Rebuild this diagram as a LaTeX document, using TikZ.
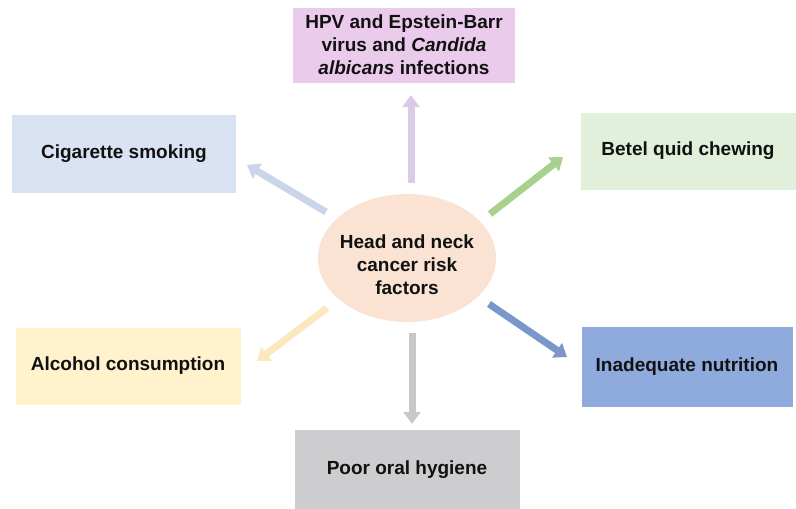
\documentclass[tikz,border=0pt]{standalone}
\usepackage{fontspec}
\setmainfont{Liberation Sans}
\usetikzlibrary{arrows.meta,shapes.geometric}
\definecolor{pinkbox}{HTML}{EBCBEB}
\definecolor{pinkarr}{HTML}{DCCBE6}
\definecolor{bluebox}{HTML}{DAE3F3}
\definecolor{bluearr}{HTML}{CBD5EA}
\definecolor{greenbox}{HTML}{E2EFDA}
\definecolor{greenarr}{HTML}{A9D18E}
\definecolor{yellowbox}{HTML}{FFF2CC}
\definecolor{yellowarr}{HTML}{FBE8BC}
\definecolor{navybox}{HTML}{8FAADC}
\definecolor{navyarr}{HTML}{7B96CA}
\definecolor{graybox}{HTML}{CDCCCE}
\definecolor{grayarr}{HTML}{C8C8C8}
\definecolor{peach}{HTML}{FBE3D3}
\definecolor{txt}{HTML}{111111}
\tikzset{
  factor/.style={draw=none, inner sep=0pt, align=center, text=txt,
    font=\fontsize{19}{23}\selectfont\bfseries},
  fat/.style={line width=7pt, -{Triangle[length=12pt,width=17pt]}, line cap=butt}
}
\begin{document}
\begin{tikzpicture}[x=1pt,y=-1pt]
\useasboundingbox (0,0) rectangle (796,509);
% boxes
\node[factor, fill=pinkbox, minimum width=222pt, minimum height=75pt] (hpv) at (404,45)
  {HPV and Epstein-Barr\\virus and \textit{Candida}\\\textit{albicans} infections};
\node[factor, fill=bluebox, minimum width=224pt, minimum height=78pt] (cig) at (124,154) {Cigarette smoking};
\node[factor, fill=greenbox, minimum width=215pt, minimum height=77pt] (bet) at (688,151) {Betel quid chewing};
\node[factor, fill=yellowbox, minimum width=225pt, minimum height=77pt] (alc) at (128,366) {Alcohol consumption};
\node[factor, fill=navybox, minimum width=211pt, minimum height=80pt] (nut) at (687,367) {Inadequate nutrition};
\node[factor, fill=graybox, minimum width=225pt, minimum height=80pt] (hyg) at (407,470) {Poor oral hygiene};
% centre
\node[ellipse, fill=peach, draw=none, minimum width=178pt, minimum height=128pt, inner sep=0pt] (ctr) at (407,258) {};
\node[factor] (ctrtxt) at ([yshift=-7pt]ctr.center) {Head and neck\\cancer risk\\factors};
% arrow end points
\coordinate (t1) at (411,183); \coordinate (h1) at (411,95);
\coordinate (t2) at (326,212); \coordinate (h2) at (247,165);
\coordinate (t3) at (490,214); \coordinate (h3) at (563,157);
\coordinate (t4) at (327,308); \coordinate (h4) at (257,361);
\coordinate (t5) at (489,304); \coordinate (h5) at (567,357);
\coordinate (t6) at (412,333); \coordinate (h6) at (412,424);
\draw[fat, draw=pinkarr, fill=pinkarr] (t1) -- (h1);
\draw[fat, draw=bluearr, fill=bluearr] (t2) -- (h2);
\draw[fat, draw=greenarr, fill=greenarr] (t3) -- (h3);
\draw[fat, draw=yellowarr, fill=yellowarr] (t4) -- (h4);
\draw[fat, draw=navyarr, fill=navyarr] (t5) -- (h5);
\draw[fat, draw=grayarr, fill=grayarr] (t6) -- (h6);
\end{tikzpicture}
\end{document}
